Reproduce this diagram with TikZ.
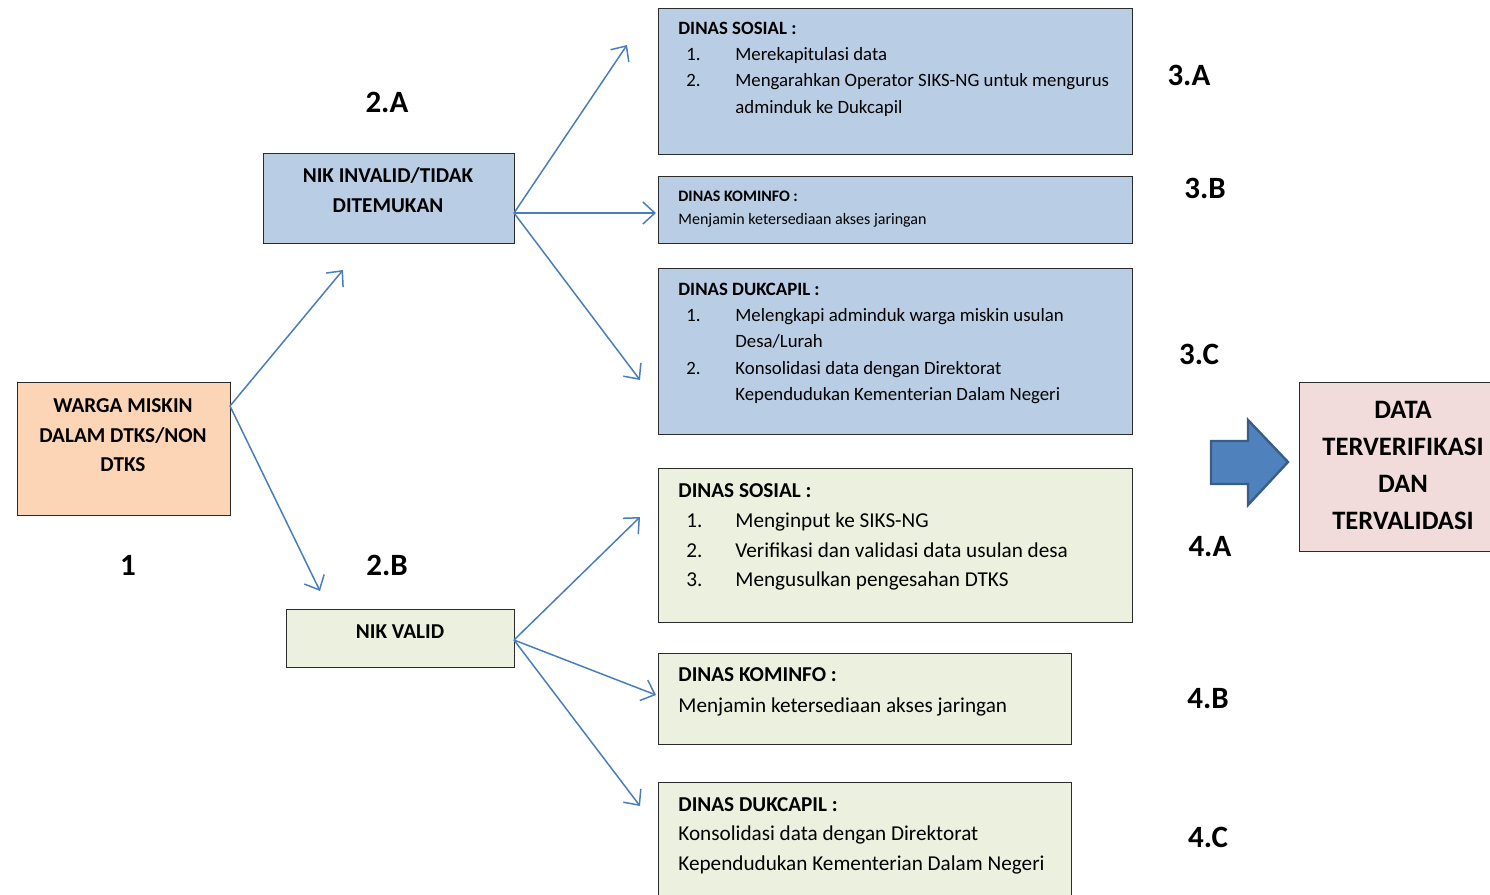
\documentclass[tikz,border=0pt]{standalone}
\usepackage{fontspec}
\setmainfont{Carlito}
\usetikzlibrary{arrows.meta}
\definecolor{peach}{HTML}{FBD5B5}
\definecolor{bluebox}{HTML}{B9CDE5}
\definecolor{greenbox}{HTML}{EBF1DE}
\definecolor{pinkbox}{HTML}{F2DCDB}
\definecolor{lineblue}{HTML}{4A7EBB}
\definecolor{arrfill}{HTML}{4F81BD}
\definecolor{arrdraw}{HTML}{385D8A}
\definecolor{boxline}{HTML}{2B2B2B}
\tikzset{
  box/.style={draw=boxline, line width=0.6pt, anchor=north west, inner sep=0pt},
  conn/.style={draw=lineblue, line width=0.75pt, -{Straight Barb[length=6pt,width=11pt,line width=0.75pt]}},
  lt/.style={anchor=west, inner sep=0pt, text height=1.45ex, text depth=0.2ex},
  big/.style={font=\fontsize{15.5}{17}\selectfont\bfseries},
  fbig/.style={font=\fontsize{13.3}{15}\selectfont\bfseries},
  ttl/.style={lt, font=\fontsize{10.6}{12}\selectfont\bfseries},
  txt/.style={lt, font=\fontsize{10.6}{12}\selectfont},
  stl/.style={lt, font=\fontsize{9.4}{11}\selectfont\bfseries},
  stx/.style={lt, font=\fontsize{9.4}{11}\selectfont},
  sst/.style={lt, font=\fontsize{8}{9}\selectfont\bfseries},
  ssx/.style={lt, font=\fontsize{8}{9}\selectfont},
  ctr/.style={font=\fontsize{10.6}{12}\selectfont\bfseries, inner sep=0pt},
}
\begin{document}
\begin{tikzpicture}[x=0.5pt,y=-0.5pt]
\useasboundingbox (0,0) rectangle (1490,895);
\clip (0,0) rectangle (1490,895);
% boxes
\node[box, fill=peach, minimum width=106.5pt, minimum height=66.5pt] (warga) at (17,382) {};
\node[box, fill=bluebox, minimum width=125.5pt, minimum height=45pt] (inv) at (263,153) {};
\node[box, fill=greenbox, minimum width=114pt, minimum height=29pt] (val) at (286,609) {};
\node[box, fill=bluebox, minimum width=237pt, minimum height=73pt] (b3a) at (658,8) {};
\node[box, fill=bluebox, minimum width=237pt, minimum height=33.5pt] (b3b) at (658,176) {};
\node[box, fill=bluebox, minimum width=237pt, minimum height=83pt] (b3c) at (658,268) {};
\node[box, fill=greenbox, minimum width=237pt, minimum height=77pt] (b4a) at (658,468) {};
\node[box, fill=greenbox, minimum width=206.5pt, minimum height=45.5pt] (b4b) at (658,653) {};
\node[box, fill=greenbox, minimum width=206.5pt, minimum height=70pt] (b4c) at (658,782) {};
\node[box, fill=pinkbox, minimum width=110pt, minimum height=84.5pt] (fin) at (1299,382) {};
% texts left
\node[ctr] (w1) at (123,406) {WARGA MISKIN};
\node[ctr] (w2) at (123,436) {DALAM DTKS/NON};
\node[ctr] (w3) at (123,465) {DTKS};
\node[ctr] (i1) at (388,176) {NIK INVALID/TIDAK};
\node[ctr] (i2) at (388,206) {DITEMUKAN};
\node[ctr] (v1) at (400,632) {NIK VALID};
\node[big] (l1) at (128,565) {1};
\node[big] (l2a) at (387,102) {2.A};
\node[big] (l2b) at (387,565) {2.B};
% 3A
\node[stl] (a0) at (678,29) {DINAS SOSIAL :};
\node[stx] (a1n) at (686,55) {1.};
\node[stx] (a1) at (735,55) {Merekapitulasi data};
\node[stx] (a2n) at (686,81) {2.};
\node[stx] (a2) at (735,81) {Mengarahkan Operator SIKS-NG untuk mengurus};
\node[stx] (a3) at (735,108) {adminduk ke Dukcapil};
% 3B
\node[sst] (b0) at (678,196) {DINAS KOMINFO :};
\node[ssx] (b1) at (678,219) {Menjamin ketersediaan akses jaringan};
% 3C
\node[stl] (c0) at (678,290) {DINAS DUKCAPIL :};
\node[stx] (c1n) at (686,316) {1.};
\node[stx] (c1) at (735,316) {Melengkapi adminduk warga miskin usulan};
\node[stx] (c2) at (735,342) {Desa/Lurah};
\node[stx] (c3n) at (686,369) {2.};
\node[stx] (c3) at (735,369) {Konsolidasi data dengan Direktorat};
\node[stx] (c4) at (735,395) {Kependudukan Kementerian Dalam Negeri};
% 4A
\node[ttl] (d0) at (678,492) {DINAS SOSIAL :};
\node[txt] (d1n) at (686,522) {1.};
\node[txt] (d1) at (735,522) {Menginput ke SIKS-NG};
\node[txt] (d2n) at (686,552) {2.};
\node[txt] (d2) at (735,552) {Verifikasi dan validasi data usulan desa};
\node[txt] (d3n) at (686,581) {3.};
\node[txt] (d3) at (735,581) {Mengusulkan pengesahan DTKS};
% 4B
\node[ttl] (e0) at (678,676) {DINAS KOMINFO :};
\node[txt] (e1) at (678,707) {Menjamin ketersediaan akses jaringan};
% 4C
\node[ttl] (f0) at (678,806) {DINAS DUKCAPIL :};
\node[txt] (f1) at (678,835) {Konsolidasi data dengan Direktorat};
\node[txt] (f2) at (678,865) {Kependudukan Kementerian Dalam Negeri};
% labels right
\node[big] (l3a) at (1189,75) {3.A};
\node[big] (l3b) at (1205,188) {3.B};
\node[big] (l3c) at (1199,354) {3.C};
\node[big] (l4a) at (1210,547) {4.A};
\node[big] (l4b) at (1208,699) {4.B};
\node[big] (l4c) at (1208,837) {4.C};
% final box text
\node[fbig] (g1) at (1403,410) {DATA};
\node[fbig] (g2) at (1403,447) {TERVERIFIKASI};
\node[fbig] (g3) at (1403,484) {DAN};
\node[fbig] (g4) at (1403,521) {TERVALIDASI};
% block arrow
\draw[fill=arrfill, draw=arrdraw, line width=1.2pt, line join=miter]
  (1211,441) -- (1248,441) -- (1248,420) -- (1288,462) -- (1248,505) -- (1248,484) -- (1211,484) -- cycle;
% connector coordinates
\coordinate (ws) at (230,406);
\coordinate (is) at (514,213);
\coordinate (vs) at (514,640);
\coordinate (t2a) at (343,270);
\coordinate (t2b) at (320,591);
\coordinate (t3a) at (627,45);
\coordinate (t3b) at (656,213);
\coordinate (t3c) at (640,380);
\coordinate (t4a) at (640,517);
\coordinate (t4b) at (656,695);
\coordinate (t4c) at (640,806);
\draw[conn] (ws) -- (t2a);
\draw[conn] (ws) -- (t2b);
\draw[conn] (is) -- (t3a);
\draw[conn] (is) -- (t3b);
\draw[conn] (is) -- (t3c);
\draw[conn] (vs) -- (t4a);
\draw[conn] (vs) -- (t4b);
\draw[conn] (vs) -- (t4c);
\end{tikzpicture}
\end{document}
